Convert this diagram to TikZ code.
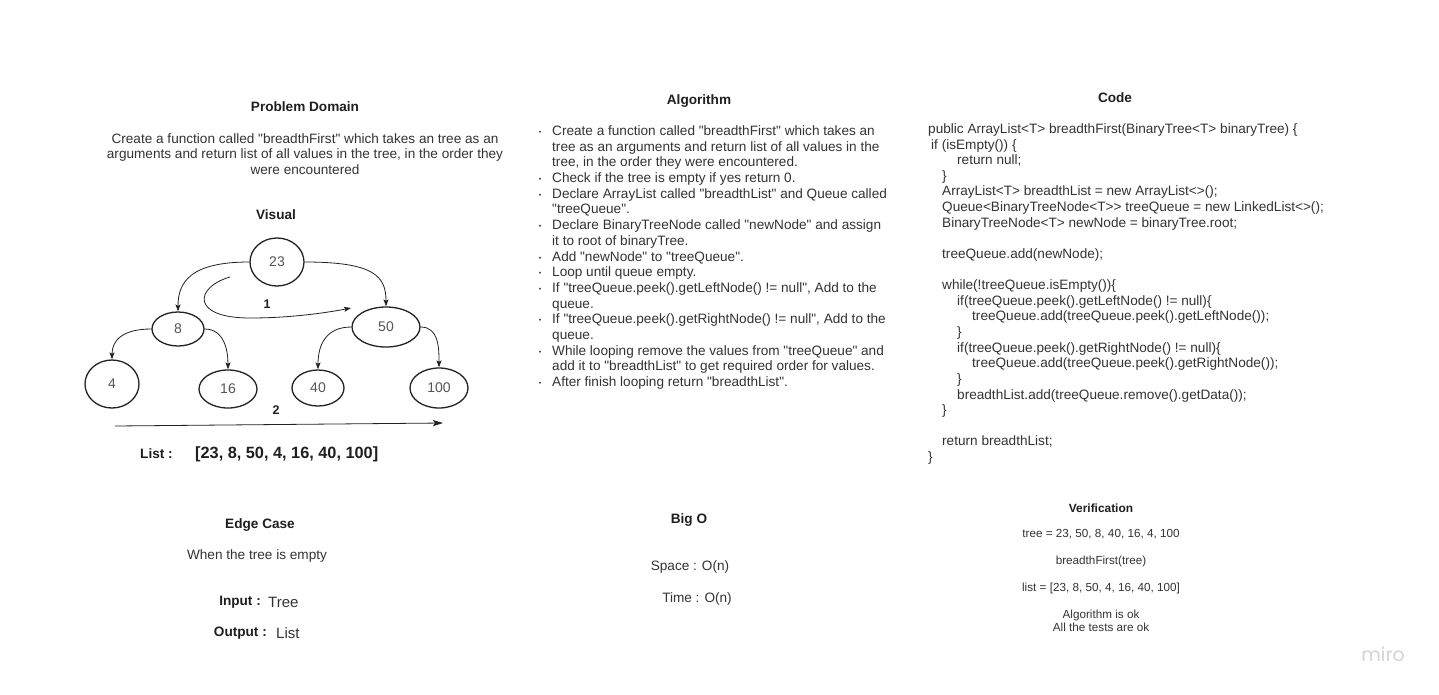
\documentclass[tikz,border=0pt]{standalone}
\usepackage{fontspec}
\setmainfont{Liberation Sans}[Ligatures=TeXOff]
\newfontfamily\logofont{Poppins}
\usetikzlibrary{arrows.meta,shapes.geometric}
\definecolor{hd}{HTML}{1F1F1F}
\definecolor{txt}{HTML}{333333}
\definecolor{nodetxt}{HTML}{555555}
\definecolor{edge}{HTML}{222222}
\definecolor{logo}{HTML}{D2D3DB}
\tikzset{
  head/.style={font=\fontsize{13.6}{16}\selectfont\bfseries, text=hd, inner sep=0pt},
  body/.style={font=\fontsize{13.6}{15.8}\selectfont, text=txt, inner sep=0pt},
  bline/.style={anchor=base west, font=\fontsize{13.6}{15.7}\selectfont, text=txt, inner sep=0pt},
  dotb/.style={anchor=base, font=\fontsize{7}{8}\selectfont, text=txt, inner sep=0pt},
  small/.style={font=\fontsize{11.7}{13.5}\selectfont, text=txt, inner sep=0pt},
  tnode/.style={ellipse, draw=edge, line width=1.3pt, inner sep=0pt, font=\fontsize{14}{16}\selectfont, text=nodetxt},
  arr/.style={draw=edge, line width=0.8pt, -{Stealth[length=7pt,width=5pt,inset=1.5pt]}},
}
\begin{document}
\begin{tikzpicture}[x=1pt,y=-1pt]
\useasboundingbox[fill=white] (0,0) rectangle (1439,694);

% ---------------- Problem Domain ----------------
\node[head] (pdh) at (305,107) {Problem Domain};
\node[body, align=center] (pdt) at (305,154) {Create a function called "breadthFirst" which takes an tree as an\\arguments and return list of all values in the tree, in the order they\\were encountered};

% ---------------- Visual ----------------
\node[head] (vh) at (276,215) {Visual};
\node[tnode, minimum width=54pt, minimum height=48pt] (n23) at (277,262) {23};
\node[tnode, minimum width=52pt, minimum height=34pt] (n8) at (178,329) {8};
\node[tnode, minimum width=68pt, minimum height=40pt] (n50) at (386,327) {50};
\node[tnode, minimum width=54pt, minimum height=48pt] (n4) at (112,384) {4};
\node[tnode, minimum width=58pt, minimum height=38pt] (n16) at (228,389) {16};
\node[tnode, minimum width=52pt, minimum height=36pt] (n40) at (318,388) {40};
\node[tnode, minimum width=58pt, minimum height=40pt] (n100) at (439,388) {100};

\draw[arr] (n23.west) .. controls +(-58,0) and +(0,-30) .. (n8.north);
\draw[arr] (n23.east) .. controls +(70,0) and +(0,-30) .. (n50.north);
\draw[arr] (n8.west) .. controls +(-30,0) and +(0,-18) .. (n4.north);
\draw[arr] (n8.east) .. controls +(20,0) and +(0,-18) .. (n16.north);
\draw[arr] (n50.west) .. controls +(-25,0) and +(0,-25) .. (n40.north);
\draw[arr] (n50.east) .. controls +(18,0) and +(0,-20) .. (n100.north);

\coordinate (c1s) at (230,277);
\coordinate (c1e) at (351,308);
\draw[arr] (c1s) .. controls (195,287) and (190,318) .. (250,318) .. controls (290,318) and (325,313) .. (c1e);
\node[font=\fontsize{12.5}{14}\selectfont\bfseries, text=hd] (l1) at (267,304) {1};

\coordinate (c2s) at (115,426);
\coordinate (c2e) at (443,423);
\draw[draw=edge, line width=0.8pt, -{Stealth[length=10pt,width=6pt,inset=2pt]}] (c2s) -- (c2e);
\node[font=\fontsize{12.5}{14}\selectfont\bfseries, text=hd] (l2) at (276,410) {2};

\node[head, anchor=west] (lsth) at (140,454) {List :};
\node[font=\fontsize{16.3}{18}\selectfont\bfseries, text=hd, anchor=west, inner sep=0pt] (lstv) at (195,454) {[23, 8, 50, 4, 16, 40, 100]};

% ---------------- Algorithm ----------------
\node[head] (alh) at (699,101) {Algorithm};
\foreach \i/\t in {
0/{Create a function called "breadthFirst" which takes an},
1/{tree as an arguments and return list of all values in the},
2/{tree, in the order they were encountered.},
3/{Check if the tree is empty if yes return 0.},
4/{Declare ArrayList called "breadthList" and Queue called},
5/{"treeQueue".},
6/{Declare BinaryTreeNode called "newNode" and assign},
7/{it to root of binaryTree.},
8/{Add "newNode" to "treeQueue".},
9/{Loop until queue empty.},
10/{If "treeQueue.peek().getLeftNode() != null", Add to the},
11/{queue.},
12/{If "treeQueue.peek().getRightNode() != null", Add to the},
13/{queue.},
14/{While looping remove the values from "treeQueue" and},
15/{add it to "breadthList" to get required order for values.},
16/{After finish looping return "breadthList".}}
{\node[bline] (al\i) at (552,135.5+15.69*\i) {\t};}
\foreach \i in {0,3,4,6,8,9,10,12,14,16}
{\node[dotb] (ab\i) at (540,134.5+15.69*\i) {•};}

% ---------------- Code ----------------
\node[head] (cdh) at (1115,98) {Code};
\foreach \i/\x/\t in {
0/928/{public ArrayList<T> breadthFirst(BinaryTree<T> binaryTree) \{},
1/931/{if (isEmpty()) \{},
2/957/{return null;},
3/942/{\}},
4/942/{ArrayList<T> breadthList = new ArrayList<>();},
5/942/{Queue<BinaryTreeNode<T>{}> treeQueue = new LinkedList<>();},
6/942/{BinaryTreeNode<T> newNode = binaryTree.root;},
8/942/{treeQueue.add(newNode);},
10/942/{while(!treeQueue.isEmpty())\{},
11/957/{if(treeQueue.peek().getLeftNode() != null)\{},
12/972/{treeQueue.add(treeQueue.peek().getLeftNode());},
13/957/{\}},
14/957/{if(treeQueue.peek().getRightNode() != null)\{},
15/972/{treeQueue.add(treeQueue.peek().getRightNode());},
16/957/{\}},
17/957/{breadthList.add(treeQueue.remove().getData());},
18/942/{\}},
20/942/{return breadthList;},
21/928/{\}}}
{\node[bline] (cd\i) at (\x,133.5+15.62*\i) {\t};}

% ---------------- Edge Case ----------------
\node[head] (ech) at (260,525) {Edge Case};
\node[body] (ect) at (257,556) {When the tree is empty};
\node[head, anchor=east] (inh) at (261,602) {Input :};
\node[font=\fontsize{15}{17}\selectfont, text=txt, anchor=west, inner sep=0pt] (inv) at (268,602) {Tree};
\node[head, anchor=east] (outh) at (267,633) {Output :};
\node[font=\fontsize{15}{17}\selectfont, text=txt, anchor=west, inner sep=0pt] (outv) at (276,633) {List};

% ---------------- Big O ----------------
\node[head] (boh) at (689,520) {Big O};
\node[body] (bos) at (690,567) {Space : O(n)};
\node[body] (bot) at (697,599) {Time : O(n)};

% ---------------- Verification ----------------
\node[font=\fontsize{11.9}{14}\selectfont\bfseries, text=hd, inner sep=0pt] (vfh) at (1101,508) {Verification};
\node[small] (vf1) at (1101,534) {tree = 23, 50, 8, 40, 16, 4, 100};
\node[small] (vf2) at (1101,561) {breadthFirst(tree)};
\node[small] (vf3) at (1101,588) {list = [23, 8, 50, 4, 16, 40, 100]};
\node[small, align=center] (vf4) at (1101,621) {Algorithm is ok\\All the tests are ok};

% ---------------- logo ----------------
\node[font=\logofont\fontsize{19}{22}\selectfont, text=logo, inner sep=0pt] (logo) at (1383,654) {miro};
\end{tikzpicture}
\end{document}
